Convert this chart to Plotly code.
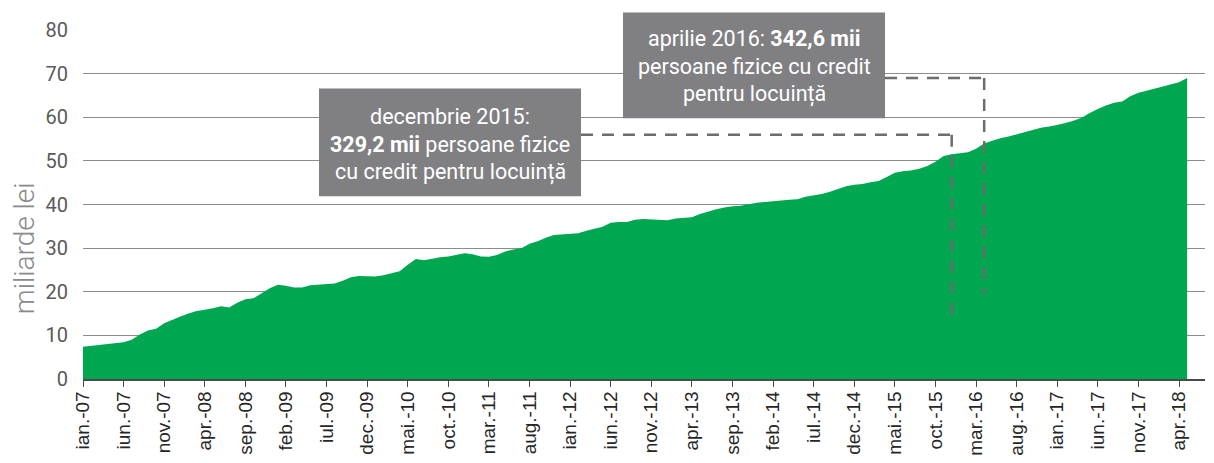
import plotly.graph_objects as go

# ---- data ----
month_names = ['ian.', 'feb.', 'mar.', 'apr.', 'mai.', 'iun.', 'iul.', 'aug.', 'sep.', 'oct.', 'nov.', 'dec.']
years = list(range(2007, 2019))
categories = [f"{m}-{str(y)[2:]}" for y in years for m in month_names][:137]  # ian.-07 .. mai.-18

credit_values = [
    7.4, 7.6, 7.9, 8.1, 8.3, 8.4, 9.0, 10.2, 11.1, 11.5, 12.8, 13.6, 14.3, 15.0, 15.6, 15.9, 16.2, 16.7, 16.4, 17.5,
    18.3, 18.5, 19.6, 20.8, 21.6, 21.4, 21.0, 21.0, 21.5,
    21.6, 21.7, 21.9, 22.5, 23.3, 23.6, 23.6, 23.5, 23.8, 24.2, 24.7, 26.2, 27.5, 27.2, 27.6, 27.9, 28.1, 28.5, 28.8,
    28.6, 28.1, 28.0, 28.4, 29.2, 29.7, 30.0, 31.0, 31.6, 32.4, 33.0,
    33.1, 33.3, 33.4, 34.0, 34.4, 34.9, 35.8, 36.0, 36.0, 36.5, 36.7, 36.6, 36.4, 36.4, 36.8, 37.0, 37.1, 37.8, 38.4,
    38.9, 39.3, 39.6, 39.7, 40.1, 40.4, 40.6, 40.7, 40.9, 41.1, 41.2,
    41.8, 42.1, 42.4, 42.9, 43.5, 44.2, 44.5, 44.7, 45.1, 45.4, 46.3, 47.3, 47.6, 47.8, 48.2, 48.8, 49.8, 51.1, 51.5,
    51.7, 52.0, 52.8, 54.0, 54.6, 55.2,
    55.6, 56.1, 56.5, 57.1, 57.6, 57.9, 58.2, 58.7, 59.2, 59.9, 61.0, 61.9, 62.7, 63.3, 63.6, 64.8, 65.6, 66.1, 66.6,
    67.0, 67.5, 68.0, 69.0,
]

tick_labels = categories[::5]
y_ticks = [0, 10, 20, 30, 40, 50, 60, 70, 80]

# annotation info
note_dates = ['dec.-15', 'apr.-16']
note_lines = [
    ["decembrie 2015:", "<b>329,2 mii</b> persoane fizice", "cu credit pentru locuință"],
    ["aprilie 2016: <b>342,6 mii</b>", "persoane fizice cu credit", "pentru locuință"],
]
note_level = [56.0, 69.0]     # height of horizontal dashed connector
note_bottom = [13.1, 19.3]    # end of vertical dashed connector

x_idx = list(range(len(credit_values)))
x_max = 138.2

fig = go.Figure()
fig.add_trace(go.Scatter(
    x=x_idx, y=credit_values, mode='lines', fill='tozeroy',
    line=dict(color='#00A650', width=0), fillcolor='#00A650',
    hoverinfo='skip', showlegend=False,
))

# page has an 8px body margin: figure is placed at (8, 8)
OFF = 8
W, H = 1214 - OFF, 463 - OFF
# plot-area geometry in page pixels
L, R, T, B = 83, 1205, 29.5, 379.0
def px(xp):
    return (xp - L) / (R - L)
def py(yp):
    return (B - yp) / (B - T)

box_px = [(319, 581, 88, 196), (623, 885, 12, 118)]
line_centers = [[116.5, 144.0, 172.0], [38.5, 66.5, 94.0]]
BOX_COLOR = '#808083'
DASH_COLOR = '#6d6d6d'

shapes = []
annotations = []
for k in range(2):
    x0, x1, y0, y1 = box_px[k]
    shapes.append(dict(type='rect', xref='paper', yref='paper',
                       x0=px(x0), x1=px(x1), y0=py(y1), y1=py(y0),
                       fillcolor=BOX_COLOR, line=dict(width=0), layer='above'))
    cx = px((x0 + x1) / 2)
    for ln, yc in zip(note_lines[k], line_centers[k]):
        annotations.append(dict(xref='paper', yref='paper', x=cx, y=py(yc),
                                xanchor='center', yanchor='middle', text=ln, showarrow=False,
                                font=dict(family='Roboto', size=21.5, color='white')))
    xi = categories.index(note_dates[k])
    shapes.append(dict(type='line', xref='x', yref='y',
                       x0=(x1 - L) / (R - L) * x_max, x1=xi, y0=note_level[k], y1=note_level[k],
                       line=dict(color=DASH_COLOR, width=2.5, dash='12px,9px'), layer='above'))
    shapes.append(dict(type='line', xref='x', yref='y',
                       x0=xi, x1=xi, y0=note_level[k], y1=note_bottom[k],
                       line=dict(color=DASH_COLOR, width=2.5, dash='12px,9px'), layer='above'))

annotations.append(dict(xref='paper', yref='paper', x=px(24), y=py(248),
                        xanchor='center', yanchor='middle', text='miliarde lei', textangle=-90,
                        showarrow=False, font=dict(family='Roboto', size=28, color='#8a8a8a', weight=300)))

fig.update_layout(
    width=W, height=H,
    margin=dict(l=L - OFF, r=1214 - R, t=T - OFF, b=463 - B, autoexpand=False),
    plot_bgcolor='white', paper_bgcolor='white',
    shapes=shapes, annotations=annotations,
    xaxis=dict(
        range=[0, x_max], tickmode='array', tickvals=x_idx[::5], ticktext=tick_labels,
        tickangle=-90, showgrid=False, zeroline=False, automargin=False,
        showline=True, linecolor='#4a4a4a', linewidth=1.5,
        ticks='outside', ticklen=3, tickwidth=1.3, tickcolor='#4a4a4a',
        minor=dict(ticks='outside', ticklen=6, tickwidth=1.3, tickcolor='#4a4a4a',
                   tickmode='array', tickvals=x_idx[::5], showgrid=False),
        tickfont=dict(family='Liberation Sans', size=19, color='#262626'),
    ),
    yaxis=dict(
        range=[0, 80], tickvals=y_ticks, showgrid=True, gridcolor='#8c8c8c', gridwidth=1.3,
        zeroline=False, showline=False, ticks='', ticklabelstandoff=14, automargin=False,
        tickfont=dict(family='Roboto', size=20, color='#5a5a5a'),
    ),
)

fig.write_html("out.html")
